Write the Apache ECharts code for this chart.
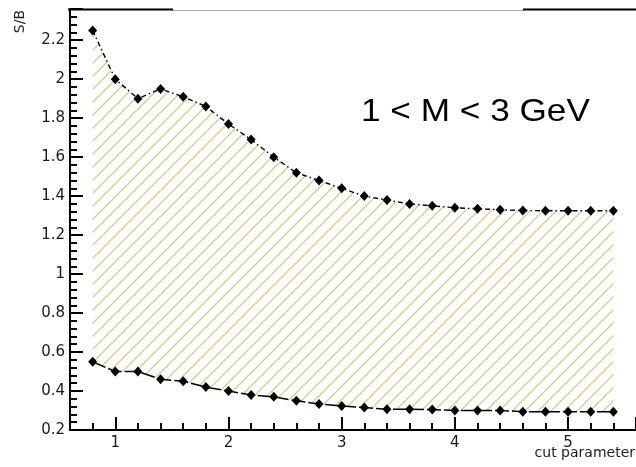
<!DOCTYPE html>
<html>
<head>
<meta charset="utf-8">
<script src="https://cdn.jsdelivr.net/npm/echarts@6/dist/echarts.min.js"></script>
<style>
  html, body { margin: 0; padding: 0; background: #fff; }
  #chart { width: 636px; height: 467px; }
</style>
</head>
<body>
<div id="chart"></div>
<script>
// Cut parameter scan points
const cutValues = [0.8, 1.0, 1.2, 1.4, 1.6, 1.8, 2.0, 2.2, 2.4, 2.6, 2.8, 3.0,
                   3.2, 3.4, 3.6, 3.8, 4.0, 4.2, 4.4, 4.6, 4.8, 5.0, 5.2, 5.4];
// Upper S/B envelope
const upperSB = [2.25, 2.00, 1.90, 1.95, 1.91, 1.86, 1.77, 1.69, 1.60, 1.52, 1.48, 1.44,
                 1.40, 1.38, 1.36, 1.35, 1.34, 1.335, 1.33, 1.326, 1.325, 1.325, 1.325, 1.325];
// Lower S/B envelope
const lowerSB = [0.55, 0.50, 0.50, 0.46, 0.45, 0.42, 0.40, 0.38, 0.37, 0.35, 0.333, 0.323,
                 0.315, 0.306, 0.306, 0.305, 0.30, 0.30, 0.30, 0.294, 0.294, 0.294, 0.294, 0.294];
// Axis ranges
const xRange = [0.6, 5.6];
const yRange = [0.2, 2.36];
const yStep = 0.2;
// Text
const yTitle = 'S/B';
const xTitle = 'cut parameter';
const massLabel = '1 < M < 3 GeV';

// Diagonal hatch tile for the band between the envelopes
function hatchTile(size, color) {
  const c = document.createElement('canvas');
  c.width = size; c.height = size;
  const g = c.getContext('2d');
  g.strokeStyle = color;
  g.lineWidth = 1.25;
  g.beginPath();
  g.moveTo(-2, size + 2); g.lineTo(size + 2, -2);
  g.moveTo(-2, 2); g.lineTo(2, -2);
  g.moveTo(size - 2, size + 2); g.lineTo(size + 2, size - 2);
  g.stroke();
  return c;
}
const hatch = { image: hatchTile(13, '#d6cb8c'), repeat: 'repeat' };

const pairs = (ys) => cutValues.map((x, i) => [x, ys[i]]);

// Band polygon: along the upper envelope, back along the lower one
function renderBand(params, api) {
  if (params.dataIndex !== 0) return null;
  const top = cutValues.map((x, i) => api.coord([x, upperSB[i]]));
  const bottom = cutValues.map((x, i) => api.coord([x, lowerSB[i]])).reverse();
  return {
    type: 'polygon',
    shape: { points: top.concat(bottom) },
    style: { fill: hatch, stroke: null }
  };
}

const chart = echarts.init(document.getElementById('chart'), null, { renderer: 'canvas' });

const tickFont = { fontFamily: 'DejaVu Sans', fontSize: 15, color: '#1a1a1a' };

chart.setOption({
  animation: false,
  backgroundColor: '#fff',
  grid: { left: 70, right: 0, top: 9, bottom: 37, containLabel: false },
  xAxis: {
    type: 'value',
    min: xRange[0], max: xRange[1],
    splitLine: { show: false },
    axisLine: { onZero: false, lineStyle: { color: '#000', width: 2 } },
    axisTick: { inside: true, length: 13, lineStyle: { color: '#000', width: 2 } },
    minorTick: { show: true, splitNumber: 5, length: 7, lineStyle: { color: '#000', width: 2 } },
    axisLabel: Object.assign({ showMinLabel: false, showMaxLabel: false, margin: 6 }, tickFont)
  },
  yAxis: {
    type: 'value',
    min: yRange[0], max: yRange[1], interval: yStep,
    splitLine: { show: false },
    axisLine: { onZero: false, lineStyle: { color: '#000', width: 2 } },
    axisTick: { inside: true, length: 13, lineStyle: { color: '#000', width: 2 } },
    minorTick: { show: true, splitNumber: 5, length: 7, lineStyle: { color: '#000', width: 2 } },
    axisLabel: Object.assign({ showMinLabel: true, showMaxLabel: false, margin: 5 }, tickFont)
  },
  series: [
    {
      name: 'band', type: 'custom', data: pairs(upperSB),
      encode: { x: 0, y: 1 }, renderItem: renderBand, silent: true, z: 1
    },
    {
      name: 'upper', type: 'line', data: pairs(upperSB),
      symbol: 'diamond', symbolSize: [9, 10],
      itemStyle: { color: '#000' },
      lineStyle: { color: '#000', width: 1.4, type: [5, 3, 1.5, 3] }, z: 3
    },
    {
      name: 'lower', type: 'line', data: pairs(lowerSB),
      symbol: 'diamond', symbolSize: [9, 10],
      itemStyle: { color: '#000' },
      lineStyle: { color: '#000', width: 1.5, type: [14, 3] }, z: 3
    }
  ],
  graphic: [
    // top frame segments
    { type: 'line', shape: { x1: 68, y1: 9.5, x2: 173, y2: 9.5 }, style: { stroke: '#000', lineWidth: 2 }, z: 10 },
    { type: 'line', shape: { x1: 173, y1: 10.5, x2: 523, y2: 10.5 }, style: { stroke: '#aaa', lineWidth: 1 }, z: 10 },
    { type: 'line', shape: { x1: 523, y1: 9.5, x2: 636, y2: 9.5 }, style: { stroke: '#000', lineWidth: 2 }, z: 10 },
    {
      type: 'text', x: 20, y: 10, rotation: Math.PI / 2, z: 10,
      style: { text: yTitle, align: 'right', verticalAlign: 'middle', font: '14px "DejaVu Sans"', fill: '#222' }
    },
    {
      type: 'text', x: 635, y: 453, z: 10,
      style: { text: xTitle, align: 'right', verticalAlign: 'middle', font: '14px "DejaVu Sans"', fill: '#222' }
    },
    {
      type: 'text', x: 361, y: 112.5, scaleX: 1.1, z: 10,
      style: { text: massLabel, align: 'left', verticalAlign: 'middle', font: '32px "Liberation Sans"', fill: '#000' }
    }
  ]
});
</script>
</body>
</html>
